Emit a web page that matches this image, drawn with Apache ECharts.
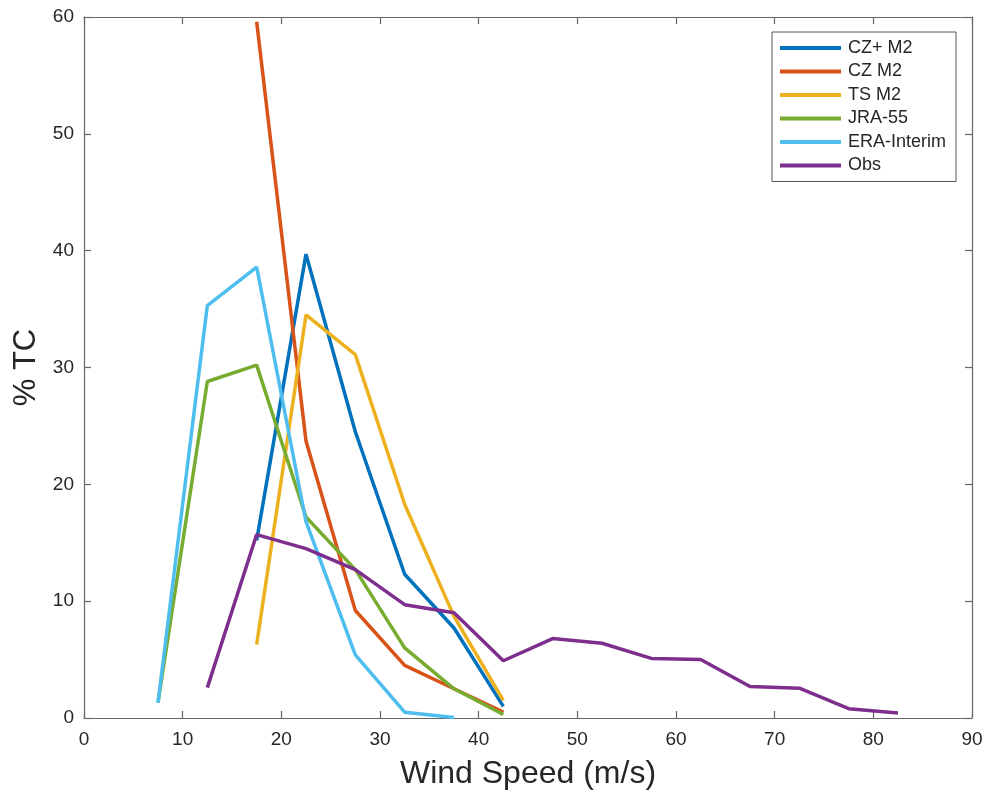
<!DOCTYPE html>
<html><head><meta charset="utf-8">
<script src="https://cdn.jsdelivr.net/npm/echarts@6/dist/echarts.min.js"></script>
<style>html,body{margin:0;padding:0;background:#fff}#c{width:997px;height:792px}</style>
</head><body><div id="c"></div>
<script>
const seriesNames = ['CZ+ M2','CZ M2','TS M2','JRA-55','ERA-Interim','Obs'];
const colors = ['#0072BD','#D95319','#EDB120','#77AC30','#4DBEEE','#7E2F8E'];
const xCZplus = [17.5,22.5,27.5,32.5,37.5,42.5];
const yCZplus = [15.2,39.7,24.5,12.3,7.7,1.0];
const xCZ = [17.5,22.5,27.5,32.5,37.5,42.5];
const yCZ = [59.6,23.7,9.2,4.5,2.5,0.5];
const xTS = [17.5,22.5,27.5,32.5,37.5,42.5];
const yTS = [6.3,34.5,31.1,18.3,8.7,1.5];
const xJRA = [7.5,12.5,17.5,22.5,27.5,32.5,37.5,42.5];
const yJRA = [1.3,28.8,30.2,17.2,12.7,6.0,2.5,0.3];
const xERA = [7.5,12.5,17.5,22.5,27.5,32.5,37.5];
const yERA = [1.3,35.3,38.6,16.8,5.4,0.5,0.05];
const xObs = [12.5,17.5,22.5,27.5,32.5,37.5,42.5,47.5,52.5,57.5,62.5,67.5,72.5,77.5,82.5];
const yObs = [2.6,15.7,14.5,12.7,9.7,9.0,4.9,6.8,6.4,5.1,5.0,2.7,2.55,0.8,0.43];
const xTicks = [0,10,20,30,40,50,60,70,80,90];
const yTicks = [0,10,20,30,40,50,60];

const xs = [xCZplus,xCZ,xTS,xJRA,xERA,xObs];
const ys = [yCZplus,yCZ,yTS,yJRA,yERA,yObs];

const font = 'Liberation Sans, Helvetica, Arial, sans-serif';
const axisCol = '#666';
const txtCol = '#262626';
const chart = echarts.init(document.getElementById('c'));
const series = seriesNames.map((n,i)=>({
  name:n, type:'line', symbol:'none', smooth:false, xAxisIndex:0, yAxisIndex:0,
  data: xs[i].map((x,j)=>[x, ys[i][j]]),
  lineStyle:{width:3.5, color:colors[i]}, itemStyle:{color:colors[i]}
}));
function axisBase(){
  return {
    axisLine:{show:true, onZero:false, lineStyle:{color:axisCol, width:1.2}},
    axisTick:{show:true, inside:true, length:7, lineStyle:{color:axisCol, width:1.2}},
    splitLine:{show:false}
  };
}
chart.setOption({
  animation:false,
  backgroundColor:'#fff',
  grid:{left:84, right:25, top:17, bottom:74, containLabel:false, outerBoundsMode:'none'},
  xAxis:[
    Object.assign(axisBase(), {type:'value', min:0, max:90, interval:10, position:'bottom',
      name:'Wind Speed (m/s)', nameLocation:'middle', nameGap:40,
      nameTextStyle:{fontFamily:font, fontSize:32, color:txtCol},
      axisLabel:{fontFamily:font, fontSize:19, color:txtCol, margin:12}}),
    Object.assign(axisBase(), {type:'value', min:0, max:90, interval:10, position:'top',
      axisLabel:{show:false}})
  ],
  yAxis:[
    Object.assign(axisBase(), {type:'value', min:0, max:60, interval:10, position:'left',
      name:'% TC', nameLocation:'middle', nameGap:32, nameRotate:90,
      nameTextStyle:{fontFamily:font, fontSize:31, color:txtCol},
      axisLabel:{fontFamily:font, fontSize:19, color:txtCol, margin:10}}),
    Object.assign(axisBase(), {type:'value', min:0, max:60, interval:10, position:'right',
      axisLabel:{show:false}})
  ],
  legend:{
    orient:'vertical', left:772, top:32,
    data:seriesNames,
    icon:'rect', itemWidth:61, itemHeight:4, itemGap:3.5,
    backgroundColor:'#fff', borderColor:'#555', borderWidth:1,
    padding:[6,10,6,8],
    textStyle:{fontFamily:font, fontSize:18, color:txtCol, lineHeight:20, padding:[0,0,0,2]}
  },
  series: series
});
</script></body></html>
